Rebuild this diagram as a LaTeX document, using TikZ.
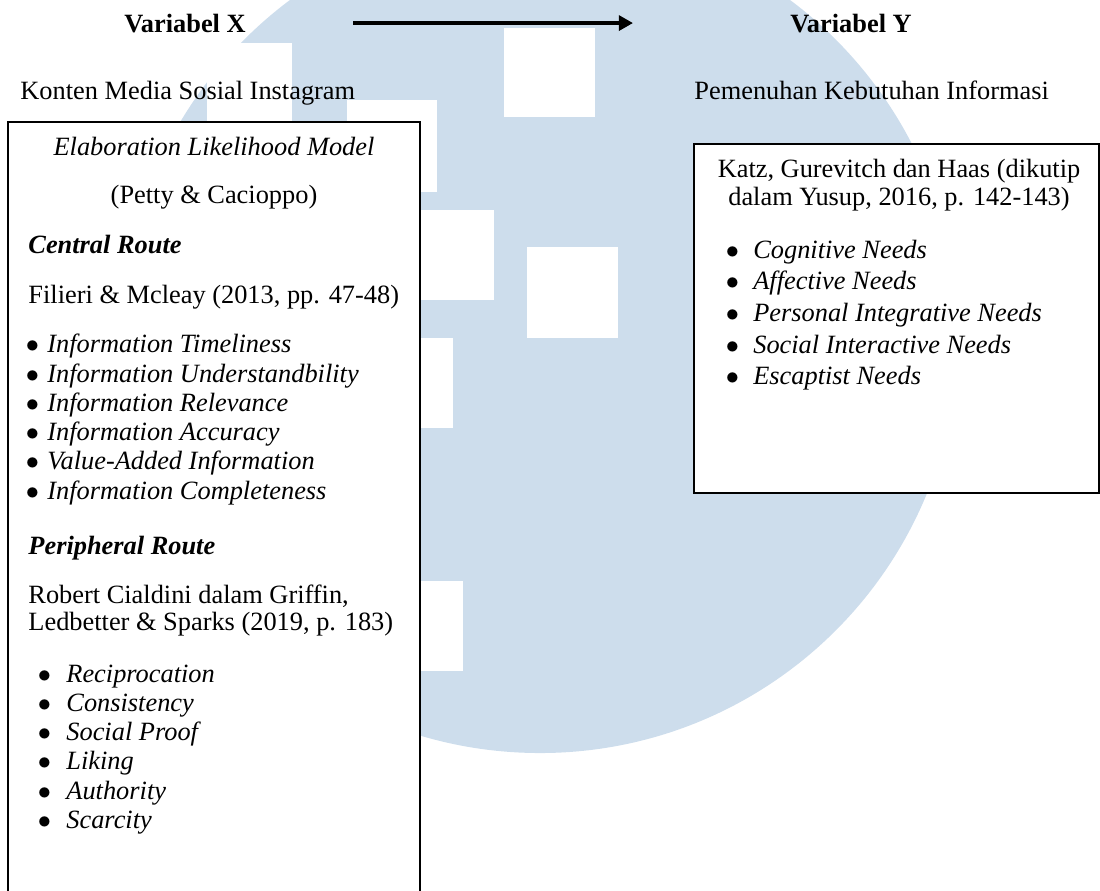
\documentclass[tikz,border=0pt]{standalone}
\usepackage{fontspec}
\setmainfont{Liberation Serif}
\usepackage{tikz}
\usetikzlibrary{arrows.meta}
\definecolor{umnblue}{RGB}{205,221,236}

\begin{document}
\begin{tikzpicture}[x=0.455pt,y=-0.455pt,
  txt/.style={anchor=base west,inner sep=0pt,font=\fontsize{12}{14}\selectfont},
  ctxt/.style={anchor=base,inner sep=0pt,font=\fontsize{12}{14}\selectfont},
  box/.style={draw=black,line width=0.6pt,fill=white,inner sep=0pt}]
\useasboundingbox (0,0) rectangle (1100,890);
\clip (0,0) rectangle (1100,890);
% watermark in the background
\fill[umnblue] (540,335) circle (190.2pt);
\fill[white] (207,43) rectangle (292,200);
\fill[white] (347,100) rectangle (437,192);
\fill[white] (504,28) rectangle (595,117);
\fill[white] (404,210) rectangle (494,300);
\fill[white] (527,247) rectangle (618,338);
\fill[white] (363,338) rectangle (453,428);
\fill[white] (373,581) rectangle (463,671);
% boxes
\node[box,minimum width=187.5pt,minimum height=354pt] (box_x) at (214,511) {};
\node[box,minimum width=184.3pt,minimum height=158.8pt] (box_y) at (896.5,318.5) {};
% headings
\node[ctxt] (var_x) at (185,32) {\textbf{Variabel X}};
\node[ctxt] (var_y) at (851,32) {\textbf{Variabel Y}};
\draw[line width=1.5pt,-{Triangle[length=6.4pt,width=6.8pt]},shorten <=48.7pt,shorten >=71.4pt] (var_x.east) -- (var_y.west);
\node[txt] (con_x) at (20,99) {Konten Media Sosial Instagram};
\node[txt] (con_y) at (694,99) {Pemenuhan Kebutuhan Informasi};
% left box
\node[ctxt] (elm_title) at (214,155) {\textit{Elaboration Likelihood Model}};
\node[ctxt] (elm_src) at (214,203) {(Petty \& Cacioppo)};
\node[txt] (cr_head) at (28,253) {\textbf{\textit{Central Route}}};
\node[txt] (cr_src) at (28,303) {Filieri \& Mcleay (2013, pp. 47-48)};
\node[txt] (cr_i1) at (25.4,352) {$\bullet$\hspace{3.8pt}\textit{Information Timeliness}};
\node[txt] (cr_i2) at (25.4,382) {$\bullet$\hspace{3.8pt}\textit{Information Understandbility}};
\node[txt] (cr_i3) at (25.4,411) {$\bullet$\hspace{3.8pt}\textit{Information Relevance}};
\node[txt] (cr_i4) at (25.4,440) {$\bullet$\hspace{3.8pt}\textit{Information Accuracy}};
\node[txt] (cr_i5) at (25.4,469) {$\bullet$\hspace{3.8pt}\textit{Value-Added Information}};
\node[txt] (cr_i6) at (25.4,499) {$\bullet$\hspace{3.8pt}\textit{Information Completeness}};
\node[txt] (pr_head) at (28,554) {\textbf{\textit{Peripheral Route}}};
\node[txt] (pr_src1) at (28,603) {Robert Cialdini dalam Griffin,};
\node[txt] (pr_src2) at (28,630) {Ledbetter \& Sparks (2019, p. 183)};
\node[txt] (pr_i1) at (37.4,682) {$\bullet$\hspace{7pt}\textit{Reciprocation}};
\node[txt] (pr_i2) at (37.4,711) {$\bullet$\hspace{7pt}\textit{Consistency}};
\node[txt] (pr_i3) at (37.4,740) {$\bullet$\hspace{7pt}\textit{Social Proof}};
\node[txt] (pr_i4) at (37.4,769) {$\bullet$\hspace{7pt}\textit{Liking}};
\node[txt] (pr_i5) at (37.4,799) {$\bullet$\hspace{7pt}\textit{Authority}};
\node[txt] (pr_i6) at (37.4,828) {$\bullet$\hspace{7pt}\textit{Scarcity}};
% right box
\node[ctxt] (kg_src1) at (899,177) {Katz, Gurevitch dan Haas (dikutip};
\node[ctxt] (kg_src2) at (899,205) {dalam Yusup, 2016, p. 142-143)};
\node[txt] (kg_i1) at (725.4,258) {$\bullet$\hspace{6.5pt}\textit{Cognitive Needs}};
\node[txt] (kg_i2) at (725.4,289) {$\bullet$\hspace{6.5pt}\textit{Affective Needs}};
\node[txt] (kg_i3) at (725.4,321) {$\bullet$\hspace{6.5pt}\textit{Personal Integrative Needs}};
\node[txt] (kg_i4) at (725.4,353) {$\bullet$\hspace{6.5pt}\textit{Social Interactive Needs}};
\node[txt] (kg_i5) at (725.4,384) {$\bullet$\hspace{6.5pt}\textit{Escaptist Needs}};
\end{tikzpicture}
\end{document}
